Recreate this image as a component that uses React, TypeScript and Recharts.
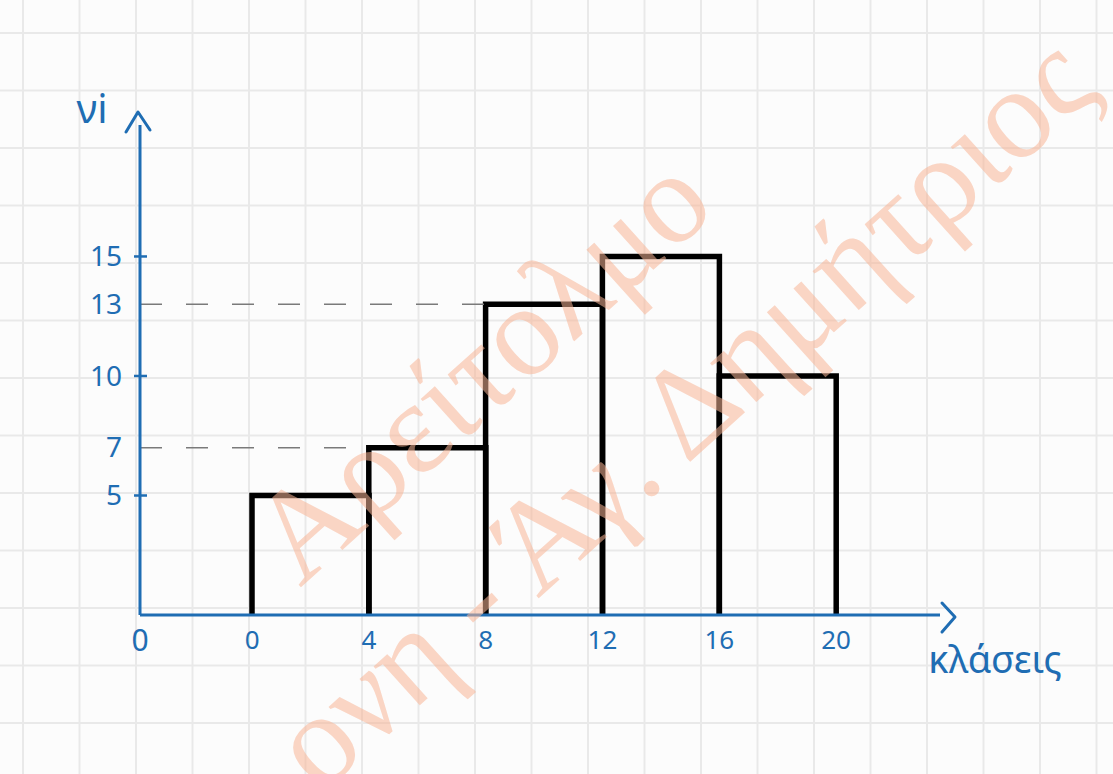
import { ComposedChart, Bar, XAxis, YAxis, ReferenceLine, ReferenceDot } from 'recharts';

// histogram classes [lo, hi) and frequencies ν_i
const classLower = [0, 4, 8, 12, 16];
const classUpper = [4, 8, 12, 16, 20];
const frequencies = [5, 7, 13, 15, 10];

const xTicks = [0, 4, 8, 12, 16, 20];
const yTicks = [5, 7, 10, 13, 15];
// classes whose height is projected onto the y axis with a dashed line
const dashedClasses = [1, 2];

const xDomain: [number, number] = [-3.84, 23.56];
const yDomain: [number, number] = [0, 20.5];

const BLUE = '#1f6db3';
const HAND = '"Noto Sans", "DejaVu Sans", sans-serif';

const data = classLower.map((lo, i) => ({
  cls: `${lo}-${classUpper[i]}`,
  mid: (lo + classUpper[i]) / 2,
  nu: frequencies[i],
}));

const dashed = new Set(dashedClasses.map((i) => frequencies[i]));

function OpenBar(props: any) {
  const { x, y, width, height } = props;
  return (
    <path
      d={`M${x},${y + height} L${x},${y} L${x + width},${y} L${x + width},${y + height}`}
      fill="none"
      stroke="#000"
      strokeWidth={5.5}
      strokeLinejoin="miter"
    />
  );
}

function XTick(props: any) {
  const { x, y, payload } = props;
  return (
    <text x={x} y={y} dy="0.71em" textAnchor="middle" fill={BLUE} fontSize={26} fontFamily={HAND}>
      {payload.value}
    </text>
  );
}

function YTick(props: any) {
  const { x, y, payload } = props;
  const v = payload.value;
  return (
    <g>
      {!dashed.has(v) && <line x1={x - 6} y1={y} x2={x + 7} y2={y} stroke={BLUE} strokeWidth={2.5} />}
      <text x={x - 18} y={y} dy="0.35em" textAnchor="end" fill={BLUE} fontSize={28} fontFamily={HAND}>
        {v}
      </text>
    </g>
  );
}

function XArrow(props: any) {
  const { cx, cy } = props;
  return (
    <g>
      <path
        d={`M${cx + 2},${cy - 12} L${cx + 15},${cy + 2} L${cx + 2},${cy + 17}`}
        fill="none"
        stroke={BLUE}
        strokeWidth={3}
        strokeLinecap="round"
        strokeLinejoin="round"
      />
      <text x={cx + 55} y={cy + 58} textAnchor="middle" fill={BLUE} fontSize={38} fontFamily={HAND}>
        κλάσεις
      </text>
    </g>
  );
}

function YArrow(props: any) {
  const { cx, cy } = props;
  return (
    <g>
      <path
        d={`M${cx - 14},${cy + 7} L${cx - 2},${cy - 13} L${cx + 10},${cy + 5}`}
        fill="none"
        stroke={BLUE}
        strokeWidth={3}
        strokeLinecap="round"
        strokeLinejoin="round"
      />
      <text x={cx - 48} y={cy - 2} textAnchor="middle" fill={BLUE} fontSize={40} fontFamily={HAND}>
        νi
      </text>
    </g>
  );
}

function Origin(props: any) {
  const { cx, cy } = props;
  return (
    <text x={cx} y={cy + 36} textAnchor="middle" fill={BLUE} fontSize={30} fontFamily={HAND}>
      0
    </text>
  );
}

export default function App() {
  return (
    <div
      style={{
        position: 'absolute',
        left: 0,
        top: 0,
        width: 1113,
        height: 774,
        background: '#fcfcfc',
        backgroundImage:
          'linear-gradient(to right, #e9e9e9 2px, transparent 2px), linear-gradient(to bottom, #e9e9e9 2px, transparent 2px)',
        backgroundSize: '56.5px 57.5px',
        backgroundPosition: '22px 32px',
      }}
    >
      <ComposedChart
        width={1113}
        height={774}
        data={data}
        barCategoryGap={0}
        margin={{ top: 125, right: 173, bottom: 119, left: 80 }}
      >
        <XAxis
          xAxisId="num"
          dataKey="mid"
          type="number"
          domain={xDomain}
          ticks={xTicks}
          allowDataOverflow
          height={40}
          axisLine={{ stroke: BLUE, strokeWidth: 3 }}
          tickLine={false}
          tickMargin={10}
          tick={<XTick />}
        />
        <XAxis xAxisId="cat" dataKey="cls" type="category" hide height={0} padding={{ left: 112, right: 104 }} />
        <YAxis
          type="number"
          domain={yDomain}
          ticks={yTicks}
          allowDataOverflow
          width={60}
          axisLine={{ stroke: BLUE, strokeWidth: 3 }}
          tickLine={false}
          tickSize={0}
          tickMargin={0}
          tick={<YTick />}
        />
        {dashedClasses.map((i) => (
          <ReferenceLine
            key={i}
            xAxisId="num"
            segment={[
              { x: xDomain[0], y: frequencies[i] },
              { x: classLower[i], y: frequencies[i] },
            ]}
            stroke="#7a7a7a"
            strokeWidth={1.5}
            strokeDasharray="22 24"
            ifOverflow="visible"
          />
        ))}
        <Bar xAxisId="cat" dataKey="nu" shape={<OpenBar />} isAnimationActive={false} />
        <ReferenceDot xAxisId="num" x={xDomain[1]} y={0} r={0} shape={<XArrow />} ifOverflow="visible" />
        <ReferenceDot xAxisId="num" x={xDomain[0]} y={yDomain[1]} r={0} shape={<YArrow />} ifOverflow="visible" />
        <ReferenceDot xAxisId="num" x={xDomain[0]} y={0} r={0} shape={<Origin />} ifOverflow="visible" />
      </ComposedChart>
      <svg
        width={1113}
        height={774}
        style={{ position: 'absolute', left: 0, top: 0, pointerEvents: 'none' }}
      >
        <g fill="#f7b596" fillOpacity={0.55} fontFamily='"Liberation Serif", "DejaVu Serif", serif' fontSize={130}>
          <text transform="translate(300,588) rotate(-42)">Αρείτολμο</text>
          <text transform="translate(320,795) rotate(-42)">ονη - Άγ. Δημήτριος</text>
        </g>
      </svg>
    </div>
  );
}
